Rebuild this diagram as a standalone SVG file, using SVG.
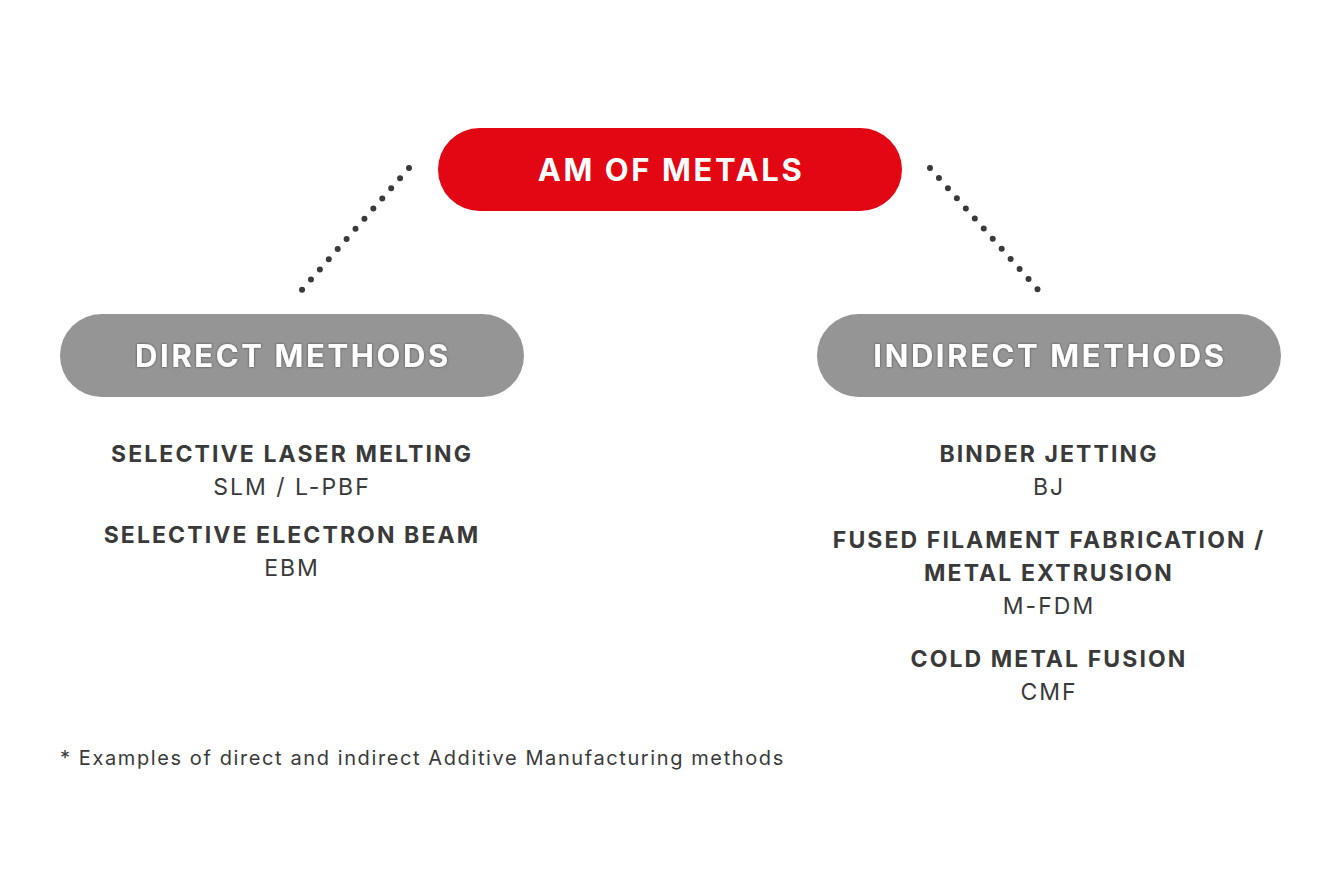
<svg xmlns="http://www.w3.org/2000/svg" width="1340" height="894" viewBox="0 0 1340 894">
<style>
.b{font-family:Inter,"Open Sans","Liberation Sans",sans-serif;font-weight:700;fill:#3a3a3a;font-size:23px;letter-spacing:2.1px;text-anchor:middle}
.r{font-family:Inter,"Open Sans","Liberation Sans",sans-serif;font-weight:400;fill:#3a3a3a;font-size:23px;letter-spacing:2px;text-anchor:middle}
.h{font-family:Inter,"Open Sans","Liberation Sans",sans-serif;font-weight:700;fill:#fff;font-size:31px;text-anchor:middle;letter-spacing:2.6px}
.d{stroke:#3a3a3a;stroke-width:6;stroke-linecap:round;stroke-dasharray:0 13.5;fill:none}
</style>
<defs><filter id="s" x="-10%" y="-30%" width="120%" height="160%"><feDropShadow dx="0" dy="0" stdDeviation="1" flood-color="#333" flood-opacity="0.8"/></filter></defs>
<rect width="1340" height="894" fill="#fff"/>
<g id="connectors">
<line class="d" x1="409" y1="168" x2="300" y2="292"/>
<line class="d" x1="930" y1="168" x2="1040" y2="292"/>
</g>
<g id="am"><rect x="438" y="128" width="464" height="83" rx="41.5" fill="#e30613"/><text class="h" x="671" y="181">AM OF METALS</text></g>
<g id="direct"><rect x="60" y="314" width="464" height="83" rx="41.5" fill="#959595"/><text class="h" x="293" y="367" filter="url(#s)">DIRECT METHODS</text></g>
<g id="indirect"><rect x="817" y="314" width="464" height="83" rx="41.5" fill="#959595"/><text class="h" x="1050" y="367" filter="url(#s)">INDIRECT METHODS</text></g>
<g id="direct-list">
<text class="b" x="292" y="462">SELECTIVE LASER MELTING</text>
<text class="r" x="292" y="495">SLM / L-PBF</text>
<text class="b" x="292" y="543">SELECTIVE ELECTRON BEAM</text>
<text class="r" x="292" y="576">EBM</text>
</g>
<g id="indirect-list">
<text class="b" x="1049" y="462">BINDER JETTING</text>
<text class="r" x="1049" y="495">BJ</text>
<text class="b" x="1049" y="548">FUSED FILAMENT FABRICATION /</text>
<text class="b" x="1049" y="581">METAL EXTRUSION</text>
<text class="r" x="1049" y="614">M-FDM</text>
<text class="b" x="1049" y="667">COLD METAL FUSION</text>
<text class="r" x="1049" y="700">CMF</text>
</g>
<text x="60" y="765" font-family="Inter,'Open Sans','Liberation Sans',sans-serif" font-size="20" letter-spacing="1.6" fill="#3a3a3a">* Examples of direct and indirect Additive Manufacturing methods</text>
</svg>
